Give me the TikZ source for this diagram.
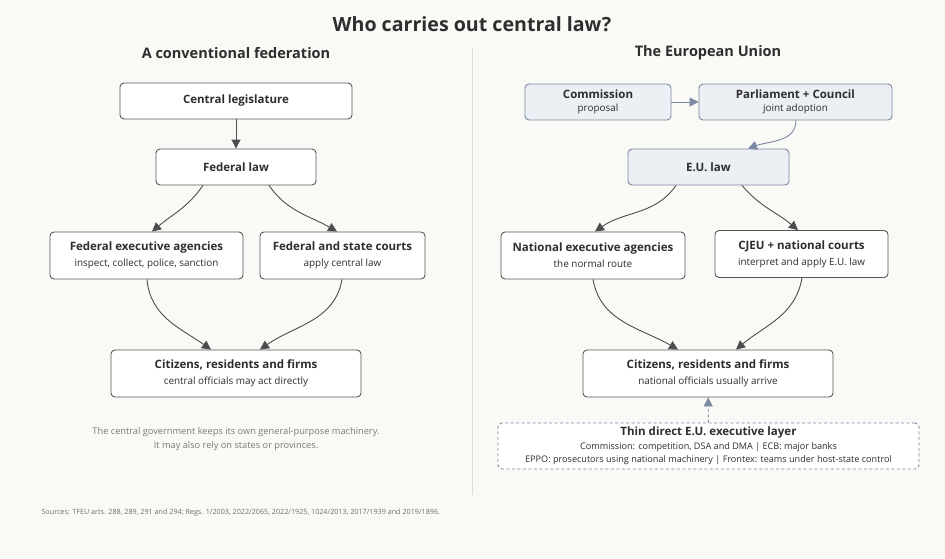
\documentclass[tikz,border=0pt]{standalone}
\usepackage{fontspec}
\setmainfont{Open Sans}
\usetikzlibrary{arrows.meta}

\definecolor{paper}{HTML}{F9F9F6}
\definecolor{ink}{HTML}{2E2E2E}
\definecolor{boxline}{HTML}{555555}
\definecolor{euline}{HTML}{7B89A3}
\definecolor{eufill}{HTML}{ECEFF4}
\definecolor{notegray}{HTML}{7A7A7A}
\definecolor{rule}{HTML}{DCDCD8}

\newcommand\boxhead[1]{{\fontsize{11.5}{16}\selectfont\bfseries #1}}
\newcommand\boxnote[1]{{\fontsize{9.9}{16}\selectfont #1}}

\begin{document}
\begin{tikzpicture}[x=1pt,y=-1pt,
    box/.style={draw=boxline, fill=white, rounded corners=4pt, line width=0.9pt,
      align=center, inner sep=0pt, text=ink, font=\fontsize{10}{16}\selectfont},
    eubox/.style={box, draw=euline, fill=eufill},
    flow/.style={-{Triangle[length=9pt,width=9pt]}, draw=ink!85, line width=0.9pt},
    euflow/.style={flow, draw=euline}]

  \fill[paper] (0,0) rectangle (945,558);
  \useasboundingbox (0,0) rectangle (945,558);

  \node (title) at (472,24) [text=ink, font=\fontsize{19.6}{22}\selectfont\bfseries] {Who carries out central law?};
  \node (fedhead) at (236,53) [text=ink, font=\fontsize{14.5}{16}\selectfont\bfseries] {A conventional federation};
  \node (euhead) at (708,53) [text=ink, font=\fontsize{14.5}{16}\selectfont\bfseries] {The European Union};
  \draw[rule, line width=1pt] (472,48) -- (472,495);

  % left: federation
  \node (leg) at (236,101) [box, minimum width=232, minimum height=36] {\boxhead{Central legislature}};
  \node (fedlaw) at (236,167) [box, minimum width=160, minimum height=36] {\boxhead{Federal law}};
  \node (fedexec) at (146.5,255.5) [box, minimum width=193, minimum height=47]
    {\boxhead{Federal executive agencies}\\\boxnote{inspect, collect, police, sanction}};
  \node (fedcourts) at (342.5,255.5) [box, minimum width=165, minimum height=47]
    {\boxhead{Federal and state courts}\\\boxnote{apply central law}};
  \node (fedcit) at (236,373.5) [box, minimum width=250, minimum height=47]
    {\boxhead{Citizens, residents and firms}\\\boxnote{central officials may act directly}};
  \node (fednote) at (236,439) [text=notegray, align=center, font=\fontsize{9.25}{14}\selectfont]
    {The central government keeps its own general-purpose machinery.\\It may also rely on states or provinces.};

  \draw[flow] (leg) -- (fedlaw);
  \draw[flow] (fedlaw.south -| 203,0) to[out=-125, in=40] (fedexec.north -| 152,0);
  \draw[flow] (fedlaw.south -| 269,0) to[out=-55, in=150] (fedcourts.north -| 337,0);
  \draw[flow] (fedexec.south -| 147,0) to[out=-85, in=145] (fedcit.north -| 211,0);
  \draw[flow] (fedcourts.south -| 342,0) to[out=-100, in=35] (fedcit.north -| 260,0);

  % right: European Union
  \node (comm) at (598,102) [eubox, minimum width=146, minimum height=36]
    {\boxhead{Commission}\\[-3pt]\boxnote{proposal}};
  \node (parl) at (795.5,102) [eubox, minimum width=193, minimum height=36]
    {\boxhead{Parliament + Council}\\[-3pt]\boxnote{joint adoption}};
  \node (eulaw) at (708.5,167) [eubox, minimum width=161, minimum height=36] {\boxhead{E.U. law}};
  \node (natexec) at (593,255.5) [box, minimum width=184, minimum height=47]
    {\boxhead{National executive agencies}\\\boxnote{the normal route}};
  \node (cjeu) at (801.5,254) [box, minimum width=173, minimum height=47]
    {\boxhead{CJEU + national courts}\\\boxnote{interpret and apply E.U. law}};
  \node (eucit) at (708,373.5) [box, minimum width=250, minimum height=47]
    {\boxhead{Citizens, residents and firms}\\\boxnote{national officials usually arrive}};
  \node (thin) at (708.5,446) [box, draw=euline, dashed, dash pattern=on 3pt off 2.5pt,
      fill=white, minimum width=421, minimum height=46, font=\fontsize{9.1}{13.5}\selectfont]
    {\boxhead{Thin direct E.U. executive layer}\\
     Commission: competition, DSA and DMA | ECB: major banks\\
     EPPO: prosecutors using national machinery | Frontex: teams under host-state control};

  \draw[euflow] (comm) -- (parl);
  \draw[euflow] (parl.south -| 796,0) to[out=-90, in=20] (eulaw.north -| 748,0);
  \draw[flow] (eulaw.south -| 676,0) to[out=-125, in=35] (natexec.north -| 595,0);
  \draw[flow] (eulaw.south -| 742,0) to[out=-50, in=140] (cjeu.north -| 798,0);
  \draw[flow] (natexec.south -| 593,0) to[out=-80, in=150] (eucit.north -| 678,0);
  \draw[flow] (cjeu.south -| 802,0) to[out=-100, in=40] (eucit.north -| 736,0);
  \draw[euflow, dashed, dash pattern=on 3pt off 2.5pt] (thin) -- (eucit);

  \node (sources) at (38,513) [anchor=west, text=notegray!90!black, font=\fontsize{7.2}{9}\selectfont]
    {Sources: TFEU arts. 288, 289, 291 and 294; Regs. 1/2003, 2022/2065, 2022/1925, 1024/2013, 2017/1939 and 2019/1896.};
\end{tikzpicture}
\end{document}
